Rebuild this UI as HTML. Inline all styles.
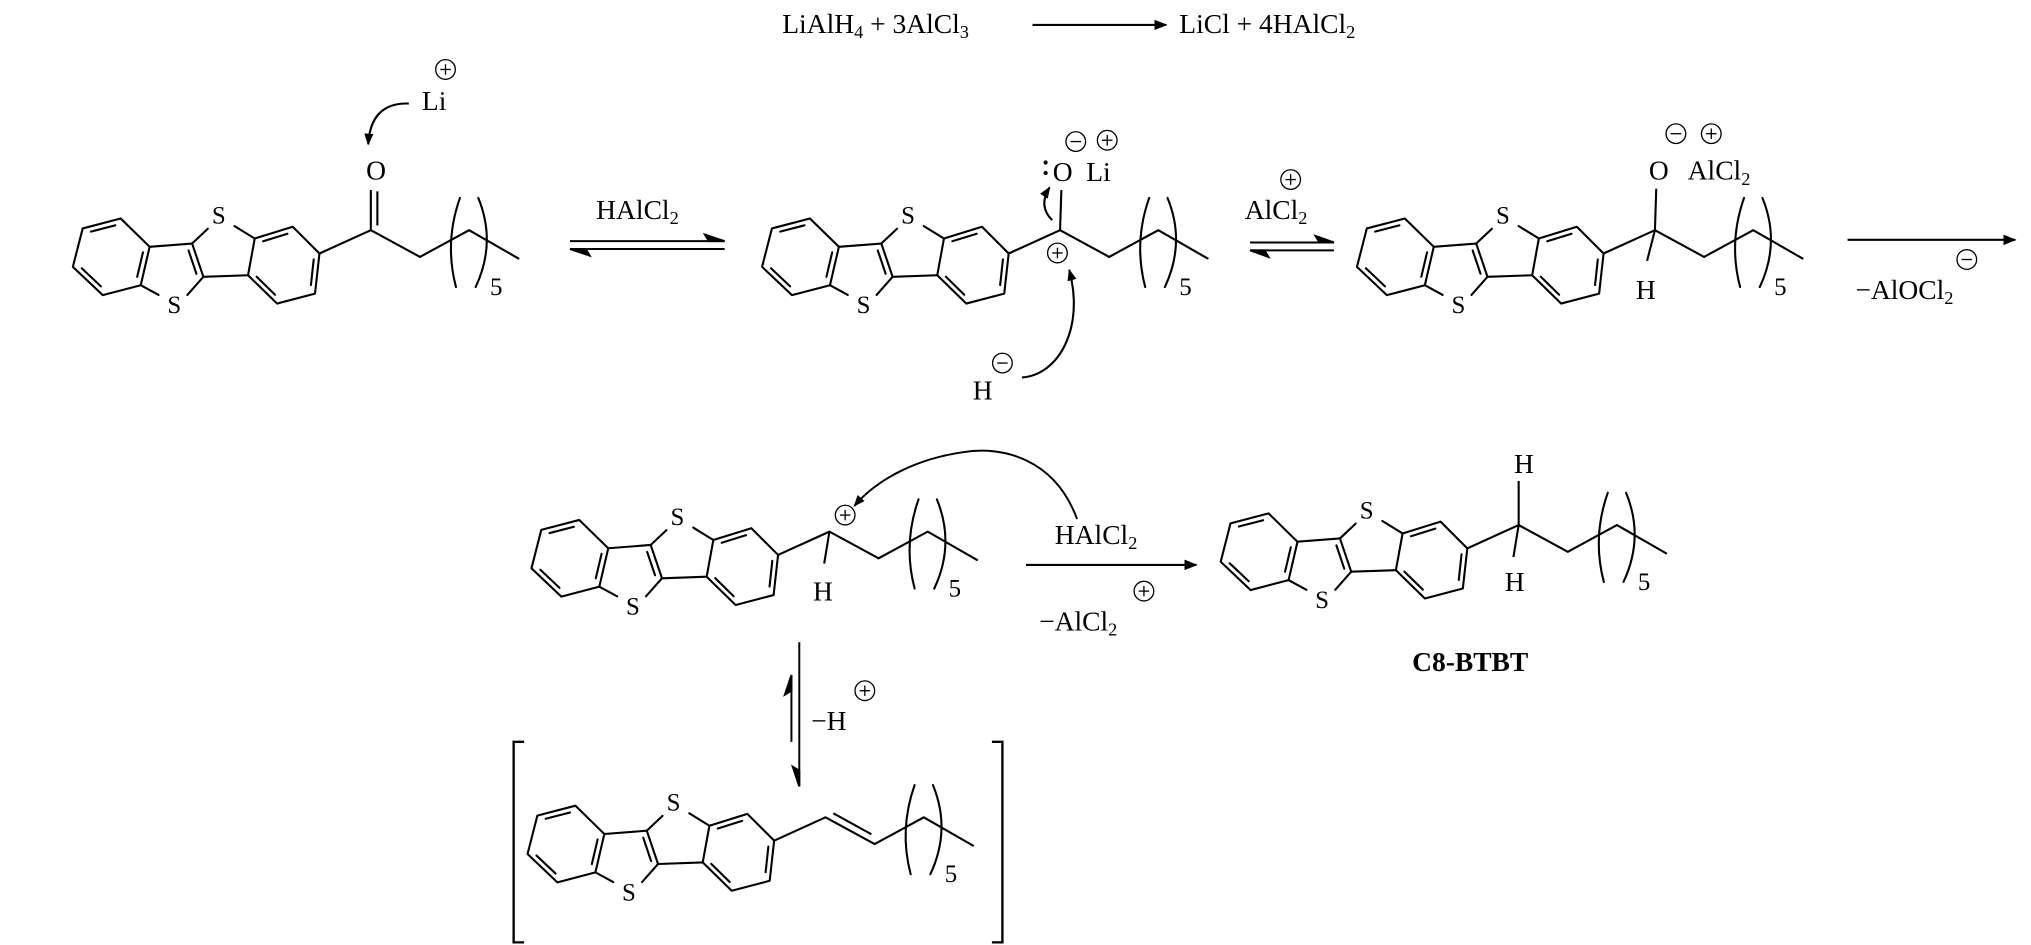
<!DOCTYPE html>
<html><head><meta charset="utf-8"><style>
html,body{margin:0;padding:0;background:#fff;}
svg{display:block;}
text{font-family:"Liberation Serif",serif;fill:#000;}
</style></head><body>
<svg width="2031" height="945" viewBox="0 0 1550 721" preserveAspectRatio="none" xmlns="http://www.w3.org/2000/svg">
<defs>
<marker id="ah" markerWidth="10" markerHeight="8" refX="9" refY="4" orient="auto" markerUnits="userSpaceOnUse"><path d="M0,0 L10,4 L0,8 z" fill="#000"/></marker>
<marker id="ahs" markerWidth="9" markerHeight="7" refX="8" refY="3.5" orient="auto" markerUnits="userSpaceOnUse"><path d="M0,0 L9,3.5 L0,7 z" fill="#000"/></marker>
<g id="core" fill="none" stroke="#000" stroke-width="1.6" stroke-linecap="round" stroke-linejoin="round">
<polygon points="63.1,174.3 92.1,166.7 114.2,188.3 107.4,217.6 78.4,225.2 55.6,203.6"/>
<line x1="69.4" y1="176.7" x2="88" y2="171.9"/>
<line x1="109.1" y1="192.5" x2="104.7" y2="211.2"/>
<line x1="77" y1="218.5" x2="62.4" y2="204.7"/>
<line x1="114.2" y1="188.3" x2="146.6" y2="185.8"/>
<line x1="146.6" y1="185.8" x2="155.2" y2="211.2"/>
<line x1="143.9" y1="191.1" x2="149.9" y2="208.9"/>
<line x1="155.2" y1="211.2" x2="189.3" y2="210"/>
<line x1="146.6" y1="185.8" x2="158.6" y2="174.5"/>
<line x1="194.4" y1="182" x2="179" y2="172.5"/>
<line x1="107.4" y1="217.6" x2="121" y2="225"/>
<line x1="155.2" y1="211.2" x2="143" y2="225"/>
<polygon points="194.4,182 223.4,173 243.8,193.4 240.4,224 211.4,231.6 189.3,210"/>
<line x1="200.8" y1="184.1" x2="219.4" y2="178.3"/>
<line x1="239.4" y1="197.9" x2="237.3" y2="217.5"/>
<line x1="209.9" y1="224.9" x2="195.8" y2="211.1"/>
<line x1="243.8" y1="193.4" x2="283" y2="175.6"/>
<polyline points="320.5,196 358,175.6 395.6,197.2"/>
<path d="M351,151 Q339,185 348,219"/>
<path d="M365,151 Q379,185 363,219"/>
</g>
</defs>

<!-- top equation -->
<text x="597" y="25" font-size="21">LiAlH<tspan font-size="14" dy="4">4</tspan><tspan dy="-4"> + 3AlCl</tspan><tspan font-size="14" dy="4">3</tspan></text>
<line x1="788" y1="19" x2="890" y2="19" stroke="#000" stroke-width="1.6" marker-end="url(#ah)"/>
<text x="900" y="25" font-size="21">LiCl + 4HAlCl<tspan font-size="14" dy="4">2</tspan></text>

<!-- molecule 1 -->
<g>
<use href="#core"/>
<text x="167" y="170.5" font-size="19" text-anchor="middle">S</text>
<text x="133" y="239" font-size="19" text-anchor="middle">S</text>
<g stroke="#000" stroke-width="1.6" fill="none">
<line x1="283" y1="175.6" x2="320.5" y2="196"/>
<line x1="283" y1="175.6" x2="283" y2="145"/>
<line x1="288" y1="172" x2="288" y2="146"/>
<path d="M312,79 Q283,78 281,110" marker-end="url(#ahs)"/>
<circle cx="340" cy="53" r="7.5" stroke-width="1"/>
<line x1="336" y1="53" x2="344" y2="53" stroke-width="1"/><line x1="340" y1="49" x2="340" y2="57" stroke-width="1"/>
</g>
<text x="287" y="137" font-size="21" text-anchor="middle">O</text>
<text x="322" y="84" font-size="21">Li</text>
<text x="374" y="225" font-size="19">5</text>
</g>

<!-- equilibrium 1 -->
<text x="455" y="167" font-size="21">HAlCl<tspan font-size="14" dy="4">2</tspan></text>
<g stroke="#000" stroke-width="1.5" fill="#000">
<line x1="435" y1="184" x2="553" y2="184"/><polygon points="553,184 538,179 541,184"/>
<line x1="435" y1="190" x2="553" y2="190"/><polygon points="435,190 450,195 447,190"/>
</g>

<!-- molecule 2 -->
<g transform="translate(526,0)">
<use href="#core"/>
<text x="167" y="170.5" font-size="19" text-anchor="middle">S</text>
<text x="133" y="239" font-size="19" text-anchor="middle">S</text>
<g stroke="#000" stroke-width="1.6" fill="none">
<line x1="283" y1="175.6" x2="320.5" y2="196"/>
<line x1="283" y1="175.6" x2="284" y2="145"/>
<path d="M277,168 Q266,157 275,143" marker-end="url(#ahs)"/>
<circle cx="281" cy="193" r="7.5" stroke-width="1"/>
<line x1="277" y1="193" x2="285" y2="193" stroke-width="1"/><line x1="281" y1="189" x2="281" y2="197" stroke-width="1"/>
<circle cx="295" cy="108" r="7.5" stroke-width="1"/>
<line x1="291" y1="108" x2="299" y2="108" stroke-width="1"/>
<circle cx="319" cy="107" r="7.5" stroke-width="1"/>
<line x1="315" y1="107" x2="323" y2="107" stroke-width="1"/><line x1="319" y1="103" x2="319" y2="111" stroke-width="1"/>
</g>
<circle cx="272" cy="124" r="1.6" fill="#000"/><circle cx="272" cy="132" r="1.6" fill="#000"/>
<text x="285" y="138" font-size="21" text-anchor="middle">O</text>
<text x="303" y="138" font-size="21">Li</text>
<text x="374" y="225" font-size="19">5</text>
</g>
<text x="750" y="305" font-size="21" text-anchor="middle">H</text>
<g stroke="#000" stroke-width="1.6" fill="none">
<circle cx="765" cy="277" r="7.5" stroke-width="1"/>
<line x1="761" y1="277" x2="769" y2="277" stroke-width="1"/>
<path d="M780,288 C808,286 828,250 816,206" marker-end="url(#ahs)"/>
</g>

<!-- equilibrium 2 -->
<text x="950" y="167" font-size="21">AlCl<tspan font-size="14" dy="4">2</tspan></text>
<g stroke="#000" stroke-width="1" fill="none">
<circle cx="985" cy="137" r="7.5"/><line x1="981" y1="137" x2="989" y2="137"/><line x1="985" y1="133" x2="985" y2="141"/>
</g>
<g stroke="#000" stroke-width="1.5" fill="#000">
<line x1="954" y1="185" x2="1018" y2="185"/><polygon points="1018,185 1004,180 1007,185"/>
<line x1="954" y1="191" x2="1018" y2="191"/><polygon points="954,191 968,196 965,191"/>
</g>

<!-- molecule 3 -->
<g transform="translate(980,0)">
<use href="#core"/>
<text x="167" y="170.5" font-size="19" text-anchor="middle">S</text>
<text x="133" y="239" font-size="19" text-anchor="middle">S</text>
<g stroke="#000" stroke-width="1.6" fill="none">
<line x1="283" y1="175.6" x2="320.5" y2="196"/>
<line x1="283" y1="175.6" x2="284" y2="144"/>
<line x1="283" y1="175.6" x2="277" y2="199"/>
<circle cx="299" cy="102" r="7.5" stroke-width="1"/>
<line x1="295" y1="102" x2="303" y2="102" stroke-width="1"/>
<circle cx="326" cy="102" r="7.5" stroke-width="1"/>
<line x1="322" y1="102" x2="330" y2="102" stroke-width="1"/><line x1="326" y1="98" x2="326" y2="106" stroke-width="1"/>
</g>
<text x="286" y="137" font-size="21" text-anchor="middle">O</text>
<text x="308" y="137" font-size="21">AlCl<tspan font-size="14" dy="4">2</tspan></text>
<text x="276" y="228" font-size="21" text-anchor="middle">H</text>
<text x="374" y="225" font-size="19">5</text>
</g>

<!-- arrow -AlOCl2 -->
<line x1="1410" y1="183" x2="1538" y2="183" stroke="#000" stroke-width="1.6" marker-end="url(#ah)"/>
<text x="1416" y="228" font-size="21">−AlOCl<tspan font-size="14" dy="4">2</tspan></text>
<g stroke="#000" stroke-width="1" fill="none">
<circle cx="1501" cy="198" r="7.5"/><line x1="1497" y1="198" x2="1505" y2="198"/>
</g>

<!-- molecule 4 -->
<g transform="translate(350,230)">
<use href="#core"/>
<text x="167" y="170.5" font-size="19" text-anchor="middle">S</text>
<text x="133" y="239" font-size="19" text-anchor="middle">S</text>
<g stroke="#000" stroke-width="1.6" fill="none">
<line x1="283" y1="175.6" x2="320.5" y2="196"/>
<line x1="283" y1="175.6" x2="279" y2="200"/>
<circle cx="295" cy="163" r="7.5" stroke-width="1"/>
<line x1="291" y1="163" x2="299" y2="163" stroke-width="1"/><line x1="295" y1="159" x2="295" y2="167" stroke-width="1"/>
</g>
<text x="278" y="228" font-size="21" text-anchor="middle">H</text>
<text x="374" y="225" font-size="19">5</text>
</g>
<path d="M822,396 C805,350 765,340 735,345 C700,350 670,365 652,386" fill="none" stroke="#000" stroke-width="1.5" marker-end="url(#ahs)"/>
<text x="805" y="415" font-size="21">HAlCl<tspan font-size="14" dy="4">2</tspan></text>
<line x1="783" y1="431" x2="913" y2="431" stroke="#000" stroke-width="1.6" marker-end="url(#ah)"/>
<text x="793" y="481" font-size="21">−AlCl<tspan font-size="14" dy="4">2</tspan></text>
<g stroke="#000" stroke-width="1" fill="none">
<circle cx="873" cy="451" r="7.5"/><line x1="869" y1="451" x2="877" y2="451"/><line x1="873" y1="447" x2="873" y2="455"/>
</g>

<!-- vertical equilibrium -->
<g stroke="#000" stroke-width="1.5" fill="#000">
<line x1="610" y1="490" x2="610" y2="600"/><polygon points="610,600 605,585 610,588"/>
<line x1="604" y1="515" x2="604" y2="566"/><polygon points="604,515 599,530 604,527"/>
</g>
<text x="619" y="557" font-size="21">−H</text>
<g stroke="#000" stroke-width="1" fill="none">
<circle cx="660" cy="527" r="7.5"/><line x1="656" y1="527" x2="664" y2="527"/><line x1="660" y1="523" x2="660" y2="531"/>
</g>

<!-- molecule 5 C8-BTBT -->
<g transform="translate(876,225)">
<use href="#core"/>
<text x="167" y="170.5" font-size="19" text-anchor="middle">S</text>
<text x="133" y="239" font-size="19" text-anchor="middle">S</text>
<g stroke="#000" stroke-width="1.6" fill="none">
<line x1="283" y1="175.6" x2="320.5" y2="196"/>
<line x1="283" y1="175.6" x2="283" y2="142"/>
<line x1="283" y1="175.6" x2="279" y2="200"/>
</g>
<text x="287" y="136" font-size="21" text-anchor="middle">H</text>
<text x="280" y="226" font-size="21" text-anchor="middle">H</text>
<text x="374" y="225" font-size="19">5</text>
</g>
<text x="1122" y="512" font-size="21" font-weight="bold" text-anchor="middle">C8-BTBT</text>

<!-- molecule 6 bracketed -->
<g transform="translate(347,448)">
<use href="#core"/>
<text x="167" y="170.5" font-size="19" text-anchor="middle">S</text>
<text x="133" y="239" font-size="19" text-anchor="middle">S</text>
<g stroke="#000" stroke-width="1.6" fill="none">
<line x1="283" y1="175.6" x2="320.5" y2="196"/>
<line x1="289" y1="172.5" x2="318" y2="188.5"/>
</g>
<text x="374" y="225" font-size="19">5</text>
</g>
<g stroke="#000" stroke-width="1.8" fill="none">
<polyline points="400,566 392,566 392,719 400,719"/>
<polyline points="757,566 765,566 765,719 757,719"/>
</g>
</svg>
</body></html>
